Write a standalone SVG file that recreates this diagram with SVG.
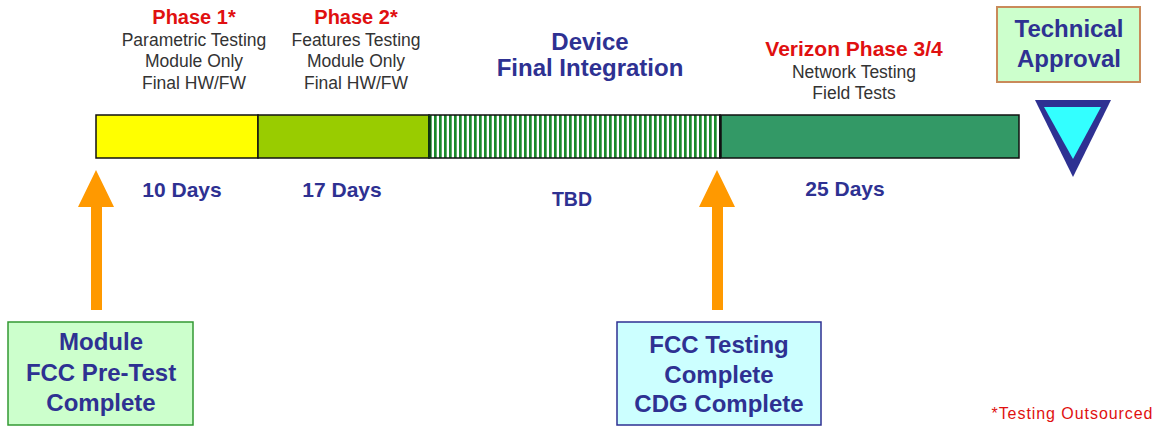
<svg xmlns="http://www.w3.org/2000/svg" width="1159" height="428" viewBox="0 0 1159 428">
  <style>
    text { font-family: "Liberation Sans", Arial, sans-serif; text-anchor: middle; }
    .phase { font-size: 20px; font-weight: bold; fill: #E01010; }
    .note { font-size: 17.5px; fill: #333333; }
    .title { font-size: 24px; font-weight: bold; fill: #2E3192; }
    .days { font-size: 21px; font-weight: bold; fill: #2E3192; }
    .seg { stroke: #111111; stroke-width: 1.5; }
    .arrow { fill: #FF9900; }
  </style>
  <defs>
    <pattern id="stripes" x="429" y="0" width="5" height="10" patternUnits="userSpaceOnUse">
      <rect x="0" y="0" width="5" height="10" fill="#FFFFFF"/>
      <rect x="0" y="0" width="2.7" height="10" fill="#1A8A2A"/>
    </pattern>
  </defs>

  <rect width="1159" height="428" fill="#FFFFFF"/>

  <!-- phase captions above the timeline -->
  <g id="phase1">
    <text class="phase" x="194" y="24">Phase 1*</text>
    <text class="note" x="194" y="46">Parametric Testing</text>
    <text class="note" x="194" y="67">Module Only</text>
    <text class="note" x="194" y="89">Final HW/FW</text>
  </g>
  <g id="phase2">
    <text class="phase" x="356" y="24">Phase 2*</text>
    <text class="note" x="356" y="46">Features Testing</text>
    <text class="note" x="356" y="67">Module Only</text>
    <text class="note" x="356" y="89">Final HW/FW</text>
  </g>
  <g id="integration">
    <text class="title" x="590" y="50">Device</text>
    <text class="title" x="590" y="76">Final Integration</text>
  </g>
  <g id="verizon">
    <text class="phase" x="854" y="56" style="font-size:21px">Verizon Phase 3/4</text>
    <text class="note" x="854" y="78">Network Testing</text>
    <text class="note" x="854" y="99">Field Tests</text>
  </g>

  <!-- timeline bar -->
  <g id="timeline">
    <rect class="seg" x="96" y="115" width="162" height="43" fill="#FFFF00"/>
    <rect class="seg" x="258" y="115" width="171" height="43" fill="#99CC00"/>
    <rect class="seg" x="429" y="115" width="291" height="43" fill="url(#stripes)"/>
    <line x1="429.5" y1="115" x2="429.5" y2="158" stroke="#0C3A12" stroke-width="2.5"/>
    <rect class="seg" x="720" y="115" width="299" height="43" fill="#339966"/>
    <line x1="720.5" y1="115" x2="720.5" y2="158" stroke="#111111" stroke-width="2.5"/>
  </g>

  <!-- durations -->
  <g id="durations">
    <text class="days" x="182" y="197">10 Days</text>
    <text class="days" x="342" y="197">17 Days</text>
    <text class="days" x="572" y="206" style="font-size:19.5px">TBD</text>
    <text class="days" x="845" y="196">25 Days</text>
  </g>

  <!-- milestone arrows -->
  <g id="connectors">
    <polygon class="arrow" points="96,170 114,207 102,207 102,310 91,310 91,207 78,207"/>
    <polygon class="arrow" points="717,170 735,207 723,207 723,310 712,310 712,207 699,207"/>
  </g>

  <g id="approval">
    <rect x="997" y="7" width="143" height="75" fill="#CCFFCC" stroke="#C98A5A" stroke-width="2"/>
    <text class="title" x="1069" y="37">Technical</text>
    <text class="title" x="1069" y="67">Approval</text>
  </g>
  <g id="approval-marker">
    <polygon points="1035,100 1111,100 1073,177" fill="#2E3192"/>
    <polygon points="1044,107 1101,107 1073,159" fill="#33FFFF"/>
  </g>

  <g id="module-pretest">
    <rect x="8" y="322" width="185" height="103" fill="#CCFFCC" stroke="#339933" stroke-width="1.5"/>
    <text class="title" x="101" y="350">Module</text>
    <text class="title" x="101" y="381">FCC Pre-Test</text>
    <text class="title" x="101" y="411">Complete</text>
  </g>
  <g id="fcc-complete">
    <rect x="617" y="322" width="204" height="103" fill="#CCFFFF" stroke="#2E3192" stroke-width="1.5"/>
    <text class="title" x="719" y="353">FCC Testing</text>
    <text class="title" x="719" y="383">Complete</text>
    <text class="title" x="719" y="412">CDG Complete</text>
  </g>

  <text x="1072" y="419" style="font-size:16px; fill:#E01010" textLength="161" lengthAdjust="spacing">*Testing Outsourced</text>
</svg>
